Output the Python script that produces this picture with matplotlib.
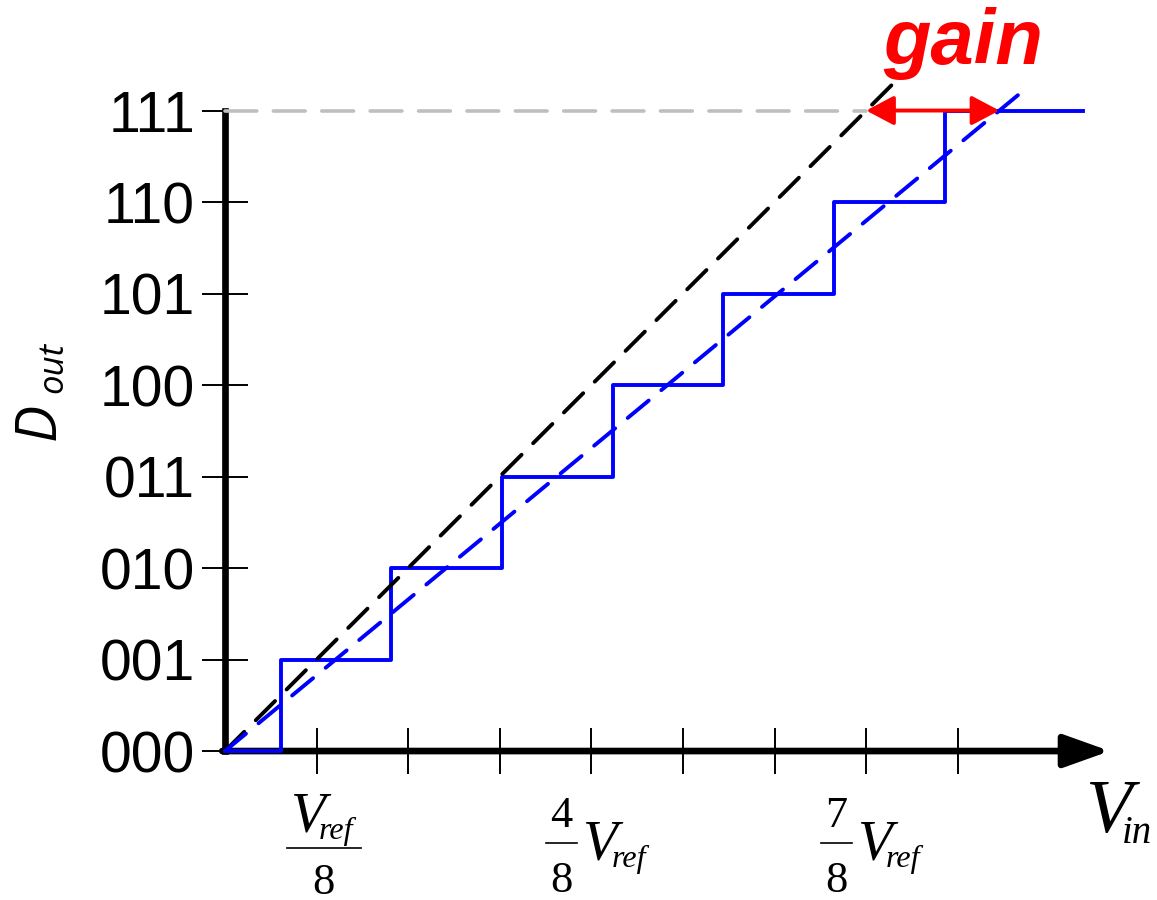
import matplotlib
matplotlib.use("Agg")
import matplotlib.pyplot as plt
from matplotlib.lines import Line2D
from matplotlib.transforms import IdentityTransform

# ---- values ----
codes = [0, 1, 2, 3, 4, 5, 6, 7]
code_labels = ["000", "001", "010", "011", "100", "101", "110", "111"]
step_edges = [0.61, 1.81, 3.02, 4.24, 5.44, 6.65, 7.86]  # transitions of the real ADC (Vref/8 units)
stair_end = 9.37
ideal_end = 7.29
gain_slope = 0.828          # slope of the gain-error transfer line
gain_end = 8.68
full_scale = 7
vin_ticks = [1, 2, 3, 4, 5, 6, 7, 8]
label_ticks = [1, 4, 7]
label_nums = ["", "4", "7"]
x_axis_end = 9.66

W, H = 1157, 900
fig = plt.figure(figsize=(W / 100, H / 100), dpi=100)
ax = fig.add_axes([0, 0, 1, 1])
ax.set_xlim(-2.456, 10.175)
ax.set_ylim(-1.628, 8.208)

BLUE = "#0000ff"
RED = "#ff0000"

# transfer curves
ax.step([0] + step_edges + [stair_end], codes + [full_scale], where="post",
        color=BLUE, lw=2.8, zorder=4)
ax.plot([0, ideal_end], [0, ideal_end], color="black", lw=2.8,
        dashes=(7.0, 4.2), dash_capstyle="round", zorder=5)
ax.plot([0, gain_end], [0, gain_slope * gain_end], color=BLUE, lw=2.8,
        dashes=(7.0, 4.2), dash_capstyle="round", zorder=5)
ax.plot([0, full_scale], [full_scale, full_scale], color="#bfbfbf", lw=2.6,
        dashes=(8.8, 4.6), dash_capstyle="round", zorder=3)
ax.annotate("", xy=(full_scale / gain_slope, full_scale), xytext=(full_scale, full_scale),
            arrowprops=dict(arrowstyle="<|-|>,head_length=17,head_width=9", mutation_scale=1,
                            color=RED, lw=2.8, shrinkA=0, shrinkB=0), zorder=6)

# axes
for s in ["top", "right"]:
    ax.spines[s].set_visible(False)
ax.spines["bottom"].set_position(("data", 0))
ax.spines["bottom"].set_visible(False)
ax.spines["left"].set_position(("data", 0))
ax.spines["left"].set_bounds(0, full_scale)
ax.spines["left"].set_linewidth(4.8)
ax.annotate("", xy=(x_axis_end, 0), xytext=(-0.03, 0),
            arrowprops=dict(arrowstyle="-|>,head_length=28,head_width=10", mutation_scale=1,
                            color="black", lw=4.8, shrinkA=0, shrinkB=0), zorder=3)

ax.set_yticks(codes, code_labels)
ax.set_xticks(vin_ticks)
ax.tick_params(axis="x", direction="inout", length=33, width=1.4, labelbottom=False)
ax.tick_params(axis="y", direction="inout", length=33, width=1.4, pad=5)
for lab in ax.get_yticklabels():
    lab.set_fontsize(41)
    lab.set_family("Liberation Sans")

serif = "Liberation Serif"


def put(x, y_top, s, **kw):
    fig.text(x, H - y_top, s, transform=IdentityTransform(), **kw)


def bar(x0, x1, y_top):
    fig.add_artist(Line2D([x0, x1], [H - y_top, H - y_top], transform=IdentityTransform(),
                          color="black", lw=1.2))


# x tick labels  (fractions of Vref)
for k, num in zip(label_ticks, label_nums):
    tx = ax.transData.transform((k, 0))[0]
    if num == "":
        put(tx - 27, 832, "V", family=serif, style="italic", fontsize=41)
        put(tx + 2, 839, "ref", family=serif, style="italic", fontsize=23)
        bar(tx - 30, tx + 44, 848)
        put(tx + 7, 894, "8", family=serif, fontsize=32, ha="center")
    else:
        put(tx - 30, 827, num, family=serif, fontsize=32, ha="center")
        bar(tx - 45, tx - 14, 843)
        put(tx - 30, 892, "8", family=serif, fontsize=32, ha="center")
        put(tx - 9, 860, "V", family=serif, style="italic", fontsize=41)
        put(tx + 20, 867, "ref", family=serif, style="italic", fontsize=23)

# axis titles
put(1085, 832, "V", family=serif, style="italic", fontsize=55)
put(1122, 843, "in", family=serif, style="italic", fontsize=28)
put(55, 440, "D", family="Open Sans", style="italic", fontsize=40,
    rotation=90, rotation_mode="anchor", ha="left", va="baseline")
put(62, 393, "out", family="Open Sans", style="italic", fontsize=25,
    rotation=90, rotation_mode="anchor", ha="left", va="baseline")

put(963, 64, "gain", family="Liberation Sans", style="italic", weight="bold",
    fontsize=56, color=RED, ha="center")

fig.savefig("out.png", dpi=100)
